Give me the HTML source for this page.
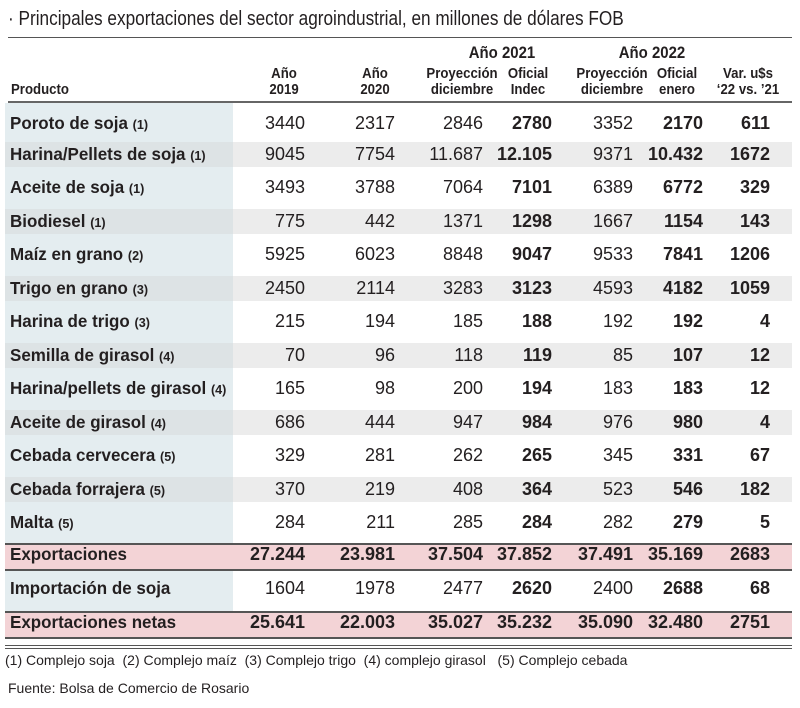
<!DOCTYPE html>
<html><head><meta charset="utf-8"><style>
body{margin:0;width:800px;height:708px;background:#fff;position:relative;overflow:hidden;font-family:"Liberation Sans Narrow","Liberation Sans",sans-serif;color:#231f20}
.a{position:absolute;white-space:nowrap}
.num{font-size:18px;text-align:right}
.b{font-weight:bold}
.lbl{font-size:17.5px;font-weight:bold;left:10px;transform:scaleX(0.97);transform-origin:left}
.lbl small{font-size:13px}
.h{font-size:15px;font-weight:bold;text-align:center;line-height:16px;transform:scaleX(0.88)}
</style></head><body>
<div class="a" style="left:8px;top:8px;font-size:20px;transform:scaleX(0.86);transform-origin:left">· Principales exportaciones del sector agroindustrial, en millones de dólares FOB</div>
<div class="a" style="left:8px;top:37px;width:784px;height:1px;background:#555"></div>
<div class="a" style="left:5px;top:103px;width:228px;height:535px;background:#e4edf0"></div>
<div id="t"></div>
<script>
const products=["Poroto de soja","Harina/Pellets de soja","Aceite de soja","Biodiesel","Maíz en grano","Trigo en grano","Harina de trigo","Semilla de girasol","Harina/pellets de girasol","Aceite de girasol","Cebada cervecera","Cebada forrajera","Malta"];
const notes=["(1)","(1)","(1)","(1)","(2)","(3)","(3)","(4)","(4)","(4)","(5)","(5)","(5)"];
const y2019=["3440","9045","3493","775","5925","2450","215","70","165","686","329","370","284"];
const y2020=["2317","7754","3788","442","6023","2114","194","96","98","444","281","219","211"];
const proy21=["2846","11.687","7064","1371","8848","3283","185","118","200","947","262","408","285"];
const ofi21=["2780","12.105","7101","1298","9047","3123","188","119","194","984","265","364","284"];
const proy22=["3352","9371","6389","1667","9533","4593","192","85","183","976","345","523","282"];
const ofi22=["2170","10.432","6772","1154","7841","4182","192","107","183","980","331","546","279"];
const varv=["611","1672","329","143","1206","1059","4","12","12","4","67","182","5"];
const totals=[["Exportaciones","27.244","23.981","37.504","37.852","37.491","35.169","2683",555,true],["Importación de soja","1604","1978","2477","2620","2400","2688","68",589,false],["Exportaciones netas","25.641","22.003","35.027","35.232","35.090","32.480","2751",623,true]];
const rights=[305,395,483,552,633,703,770];
const bold=[false,false,false,true,false,true,true];
const t=document.getElementById('t');
function add(html,cls,style,name){const d=document.createElement('div');d.className='a '+cls;d.style.cssText=style;d.innerHTML=html;


t.appendChild(d);return d;}
add('Producto','h','left:11px;top:82px;text-align:left;transform-origin:left','header-producto');
const hd=[["Año<br>2019",284],["Año<br>2020",375],["Proyección<br>diciembre",462],["Oficial<br>Indec",528],["Proyección<br>diciembre",612],["Oficial<br>enero",677],["Var. u$s<br>‘22 vs. ’21",748]];
hd.forEach((h,i)=>add(h[0],'h',`left:${h[1]-60}px;width:120px;top:66px`,'header-col-'+i));
add('Año 2021','h','left:442px;width:120px;top:45px;font-size:17px','header-2021');
add('Año 2022','h','left:592px;width:120px;top:45px;font-size:17px','header-2022');
add('','', 'left:8px;top:101px;width:784px;height:2px;background:#666','header-rule');
function center(i){return i===0?124:154.5+(i-1)*33.5;}
products.forEach((p,i)=>{const c=center(i);
 if(i%2===1){add('','',`left:233px;top:${c-12.5}px;width:559px;height:25px;background:#ececec`,'row-band-'+i);add('','',`left:5px;top:${c-12.5}px;width:228px;height:25px;background:#dde3e5`,'row-band-left-'+i);}
 add(p+' <small>'+notes[i]+'</small>','lbl',`top:${c-11}px`,'row-label');
 [y2019,y2020,proy21,ofi21,proy22,ofi22,varv].forEach((arr,j)=>add(arr[i],'num'+(bold[j]?' b':''),`left:${rights[j]-100}px;width:100px;top:${c-11}px`,'cell-value'));
});
totals.forEach((r,k)=>{const c=r[8];
 if(r[9]){add('','',`left:5px;top:${c-12}px;width:787px;height:24px;background:#f3d3d6;border-top:2px solid #555;border-bottom:2px solid #555`,'total-band-'+k);}
 add(r[0],'lbl',`top:${c-11}px`,'total-label');
 for(let j=0;j<7;j++){const b=r[9]||bold[j];add(r[j+1],'num'+(b?' b':''),`left:${rights[j]-100}px;width:100px;top:${c-11}px`,'total-value');}
});
</script>
<div class="a" style="left:5px;top:645px;width:787px;height:1px;background:#555"></div>
<div class="a" style="left:5px;top:648px;width:787px;height:1px;background:#555"></div>
<div class="a" style="left:5px;top:652px;font-size:14px">(1) Complejo soja &nbsp;(2) Complejo maíz &nbsp;(3) Complejo trigo &nbsp;(4) complejo girasol &nbsp;&nbsp;(5) Complejo cebada</div>
<div class="a" style="left:8px;top:680px;font-size:14px">Fuente: Bolsa de Comercio de Rosario</div>
</body></html>
